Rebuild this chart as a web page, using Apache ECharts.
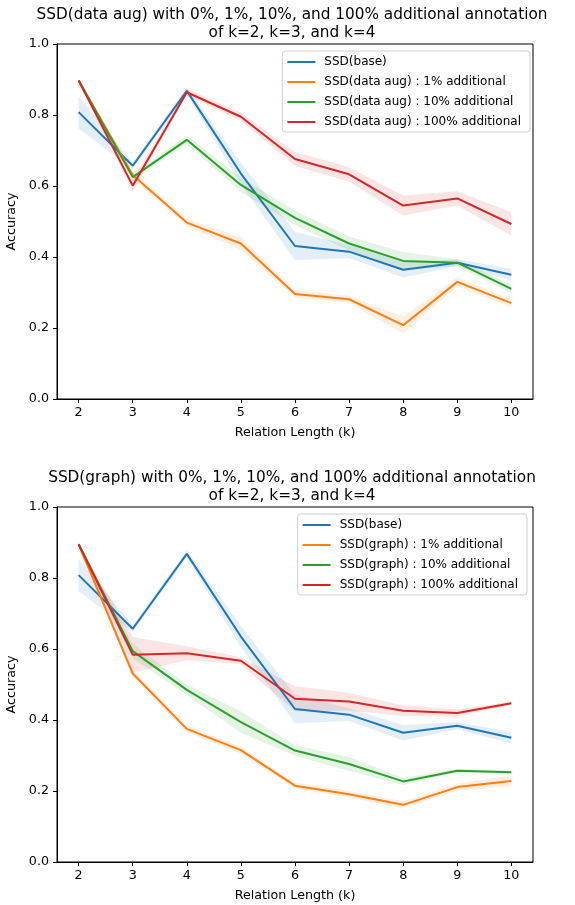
<!DOCTYPE html>
<html>
<head>
<meta charset="utf-8">
<script src="https://cdn.jsdelivr.net/npm/echarts@6/dist/echarts.min.js"></script>
<style>
  html, body { margin: 0; padding: 0; background: #fff; }
  #main { width: 575px; height: 905px; }
</style>
</head>
<body>
<div id="main"></div>
<script>
// relation length k
const ks = [2, 3, 4, 5, 6, 7, 8, 9, 10]

// shared baseline
const base = [0.808, 0.657, 0.868, 0.635, 0.431, 0.415, 0.364, 0.384, 0.350]
const baseSd = [0.045, 0.010, 0.010, 0.030, 0.040, 0.018, 0.022, 0.010, 0.016]

// top: data aug
const aug1 = [0.897, 0.631, 0.497, 0.438, 0.296, 0.281, 0.208, 0.330, 0.270]
const aug1Sd = [0.005, 0.010, 0.010, 0.018, 0.010, 0.010, 0.024, 0.012, 0.012]
const aug10 = [0.897, 0.625, 0.730, 0.603, 0.510, 0.438, 0.389, 0.384, 0.310]
const aug10Sd = [0.003, 0.010, 0.012, 0.020, 0.020, 0.020, 0.025, 0.010, 0.012]
const aug100 = [0.897, 0.601, 0.864, 0.795, 0.676, 0.633, 0.545, 0.565, 0.493]
const aug100Sd = [0.003, 0.015, 0.010, 0.012, 0.020, 0.020, 0.028, 0.020, 0.033]

// bottom: graph
const graph1 = [0.895, 0.531, 0.375, 0.315, 0.215, 0.191, 0.161, 0.211, 0.228]
const graph1Sd = [0.005, 0.010, 0.010, 0.010, 0.008, 0.010, 0.010, 0.010, 0.015]
const graph10 = [0.895, 0.594, 0.485, 0.394, 0.314, 0.276, 0.227, 0.257, 0.253]
const graph10Sd = [0.003, 0.020, 0.015, 0.030, 0.015, 0.020, 0.010, 0.005, 0.005]
const graph100 = [0.895, 0.584, 0.588, 0.567, 0.460, 0.452, 0.426, 0.420, 0.447]
const graph100Sd = [0.003, 0.050, 0.020, 0.010, 0.035, 0.025, 0.015, 0.010, 0.005]

const titles = [
  'SSD(data aug) with 0%, 1%, 10%, and 100% additional annotation\nof k=2, k=3, and k=4',
  'SSD(graph) with 0%, 1%, 10%, and 100% additional annotation\nof k=2, k=3, and k=4'
]
const colors = ['#1f77b4', '#ff7f0e', '#2ca02c', '#d62728']
const FONT = 'DejaVu Sans'

const panels = [
  {
    names: ['SSD(base)', 'SSD(data aug) : 1% additional', 'SSD(data aug) : 10% additional', 'SSD(data aug) : 100% additional'],
    means: [base, aug1, aug10, aug100],
    sds: [baseSd, aug1Sd, aug10Sd, aug100Sd]
  },
  {
    names: ['SSD(base) ', 'SSD(graph) : 1% additional', 'SSD(graph) : 10% additional', 'SSD(graph) : 100% additional'],
    means: [base, graph1, graph10, graph100],
    sds: [baseSd, graph1Sd, graph10Sd, graph100Sd]
  }
]

const gridTops = [44, 507]
const gridH = 355

const chart = echarts.init(document.getElementById('main'))

const grid = [], xAxis = [], yAxis = [], series = [], legend = [], title = []

panels.forEach((p, gi) => {
  grid.push({
    left: 57, right: 42, top: gridTops[gi], height: gridH,
    containLabel: false, outerBoundsMode: 'none',
    show: true, borderColor: '#000', borderWidth: 1, backgroundColor: 'transparent'
  })
  title.push({
    text: titles[gi],
    left: 292, top: gridTops[gi] - 38, padding: 0,
    textAlign: 'center',
    textStyle: { fontFamily: FONT, fontSize: 15.3, fontWeight: 'normal', color: '#000', lineHeight: 18 }
  })
  xAxis.push({
    type: 'value', gridIndex: gi, min: 1.6, max: 10.4,
    name: 'Relation Length (k)', nameLocation: 'middle', nameGap: 27,
    nameTextStyle: { fontFamily: FONT, fontSize: 12.7, color: '#000' },
    splitLine: { show: false },
    axisLine: { show: true, onZero: false, lineStyle: { color: '#000', width: 1 } },
    axisTick: { show: true, length: 4, lineStyle: { color: '#000' }, customValues: ks },
    axisLabel: { fontFamily: FONT, fontSize: 12.7, color: '#000', margin: 7, customValues: ks }
  })
  yAxis.push({
    type: 'value', gridIndex: gi, min: 0, max: 1, interval: 0.2,
    name: 'Accuracy', nameLocation: 'middle', nameGap: 33, nameRotate: 90,
    nameTextStyle: { fontFamily: FONT, fontSize: 12.7, color: '#000' },
    splitLine: { show: false },
    axisLine: { show: true, lineStyle: { color: '#000', width: 1 } },
    axisTick: { show: true, length: 4, lineStyle: { color: '#000' } },
    axisLabel: {
      fontFamily: FONT, fontSize: 12.7, color: '#000', margin: 8,
      formatter: v => v.toFixed(1)
    }
  })

  p.names.forEach((name, si) => {
    const m = p.means[si], sd = p.sds[si]
    // shaded band: mean +/- sd, one polygon through the axis scales
    series.push({
      type: 'custom', xAxisIndex: gi, yAxisIndex: gi, silent: true, z: 1,
      data: ks.map((k, i) => [k, m[i] - sd[i], m[i] + sd[i]]),
      encode: { x: 0, y: [1, 2] },
      renderItem: (params, api) => {
        if (params.dataIndex !== 0) return null
        const upper = ks.map((k, i) => api.coord([k, m[i] + sd[i]]))
        const lower = ks.map((k, i) => api.coord([k, m[i] - sd[i]])).reverse()
        return {
          type: 'polygon',
          shape: { points: upper.concat(lower) },
          style: { fill: colors[si], opacity: 0.12 }
        }
      }
    })
    // mean line
    series.push({
      name: name, type: 'line', xAxisIndex: gi, yAxisIndex: gi,
      data: ks.map((k, i) => [k, m[i]]),
      symbol: 'none', color: colors[si],
      lineStyle: { color: colors[si], width: 2 }, z: 3
    })
  })

  legend.push({
    data: p.names,
    orient: 'vertical',
    right: gi === 0 ? 45 : 48,
    top: gridTops[gi] + 7,
    icon: 'rect',
    itemWidth: 28, itemHeight: 2, itemGap: 8,
    padding: [5, 9, 4, 5],
    borderColor: '#d0d0d0', borderWidth: 1, borderRadius: 3,
    backgroundColor: 'rgba(255,255,255,0.8)',
    textStyle: { fontFamily: FONT, fontSize: 12, color: '#000', padding: [0, 0, 0, 4] }
  })
})

chart.setOption({
  animation: false,
  title, grid, xAxis, yAxis, series, legend
})
</script>
</body>
</html>
